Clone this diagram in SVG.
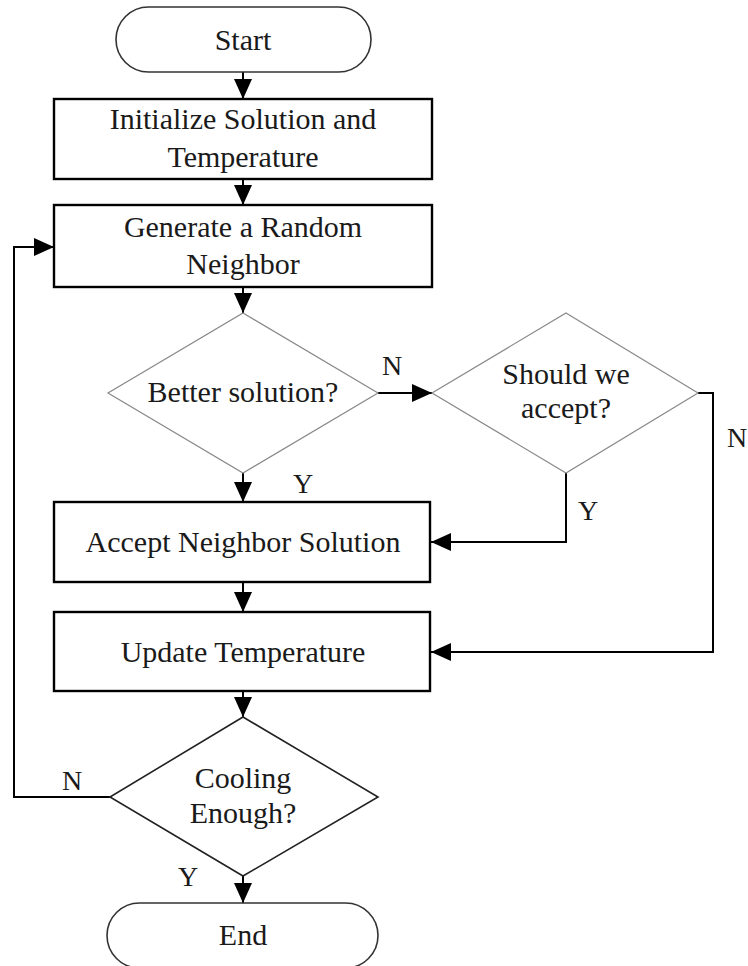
<svg xmlns="http://www.w3.org/2000/svg" width="748" height="966" viewBox="0 0 748 966">
<defs>
<marker id="ah" markerWidth="20" markerHeight="18" refX="20" refY="9" orient="auto" markerUnits="userSpaceOnUse">
<path d="M0,0 L20,9 L0,18 Z" fill="#000"/>
</marker>
<style>
.term{fill:#fff;stroke:#333;stroke-width:1.6}
.box{fill:#fff;stroke:#000;stroke-width:2.4}
.dia{fill:#fff;stroke:#888;stroke-width:1.2}
.dia2{fill:#fff;stroke:#222;stroke-width:1.6}
.t{font-family:"Liberation Serif","Times New Roman",serif;font-size:30px;fill:#1a1a1a;text-anchor:middle}
.lbl{font-family:"Liberation Serif","Times New Roman",serif;font-size:28px;fill:#1a1a1a}
.c{fill:none;stroke:#000;stroke-width:2}
</style>
</defs>
<rect width="748" height="966" fill="#fff"/>
<g id="connectors">
<path class="c" d="M243,72 L243,99" marker-end="url(#ah)"/>
<path class="c" d="M243,179 L243,205" marker-end="url(#ah)"/>
<path class="c" d="M243,287 L243,313" marker-end="url(#ah)"/>
<path class="c" d="M378,393 L432,393" marker-end="url(#ah)"/>
<path class="c" d="M243,473 L243,502" marker-end="url(#ah)"/>
<path class="c" d="M566,473 L566,542 L431,542" marker-end="url(#ah)"/>
<path class="c" d="M698,393 L713,393 L713,652 L431,652" marker-end="url(#ah)"/>
<path class="c" d="M243,582 L243,612" marker-end="url(#ah)"/>
<path class="c" d="M243,691 L243,717" marker-end="url(#ah)"/>
<path class="c" d="M110,797 L14,797 L14,247 L54,247" marker-end="url(#ah)"/>
<path class="c" d="M243,876 L243,903" marker-end="url(#ah)"/>
<text class="lbl" x="382" y="375">N</text>
<text class="lbl" x="727" y="447">N</text>
<text class="lbl" x="293" y="493">Y</text>
<text class="lbl" x="578" y="520">Y</text>
<text class="lbl" x="62" y="790">N</text>
<text class="lbl" x="178" y="886">Y</text>
</g>
<g id="start">
<rect class="term" x="116" y="7" width="255" height="65" rx="32.5"/>
<text class="t" x="243" y="50">Start</text>
</g>
<g id="init">
<rect class="box" x="54" y="99" width="378" height="80"/>
<text class="t" x="243" y="129">Initialize Solution and</text>
<text class="t" x="243" y="167">Temperature</text>
</g>
<g id="generate">
<rect class="box" x="54" y="205" width="378" height="82"/>
<text class="t" x="243" y="237">Generate a Random</text>
<text class="t" x="243" y="274">Neighbor</text>
</g>
<g id="better">
<polygon class="dia" points="243,313 378,393 243,473 108,393"/>
<text class="t" x="243" y="402">Better solution?</text>
</g>
<g id="should">
<polygon class="dia" points="566,313 698,393 566,473 432,393"/>
<text class="t" x="566" y="384">Should we</text>
<text class="t" x="566" y="418">accept?</text>
</g>
<g id="accept">
<rect class="box" x="54" y="502" width="376" height="80"/>
<text class="t" x="243" y="552">Accept Neighbor Solution</text>
</g>
<g id="update">
<rect class="box" x="54" y="612" width="376" height="79"/>
<text class="t" x="243" y="662">Update Temperature</text>
</g>
<g id="cooling">
<polygon class="dia2" points="243,717 378,797 243,876 110,797"/>
<text class="t" x="243" y="788">Cooling</text>
<text class="t" x="243" y="823">Enough?</text>
</g>
<g id="end">
<rect class="term" x="107" y="903" width="271" height="65" rx="32.5"/>
<text class="t" x="243" y="945">End</text>
</g>
</svg>
